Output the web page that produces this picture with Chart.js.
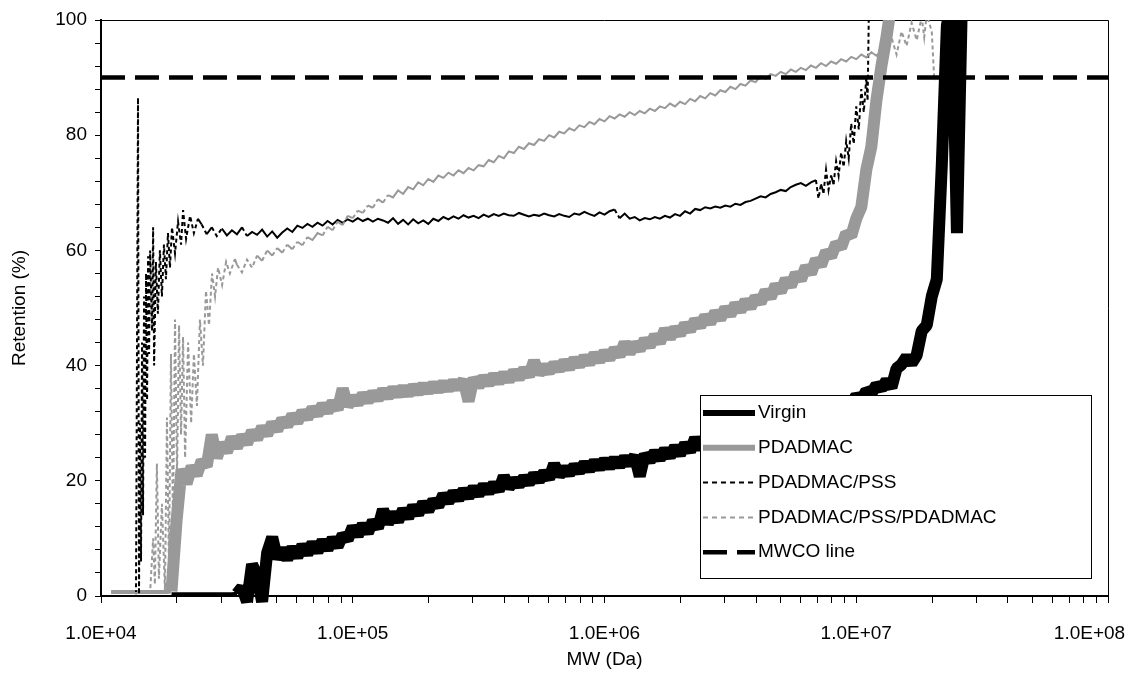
<!DOCTYPE html>
<html>
<head>
<meta charset="utf-8">
<script src="https://cdn.jsdelivr.net/npm/chart.js@4.4.1/dist/chart.umd.min.js"></script>
<style>
  html, body { margin: 0; padding: 0; background: #fff; overflow: hidden; }
  canvas { display: block; }
</style>
</head>
<body>
<canvas id="retentionChart" width="1127" height="680"></canvas>
<script>
// axis ticks
const xDecades = [1e4, 1e5, 1e6, 1e7, 1e8];
const xDecadeLabels = ['1.0E+04', '1.0E+05', '1.0E+06', '1.0E+07', '1.0E+08'];
const xMinorSteps = [2, 3, 4, 5, 6, 7, 8, 9];
const yLabelValues = [0, 20, 40, 60, 80, 100];

const seriesLabels = ['Virgin', 'PDADMAC', 'PDADMAC/PSS', 'PDADMAC/PSS/PDADMAC', 'MWCO line'];

// log10(MW) grid used by the two thick curves
const gridLogMW = [
  4.04,4.06,4.08,4.10,4.12,4.14,4.16,4.18,4.20,4.22,
  4.24,4.26,4.28,4.30,4.32,4.34,4.36,4.38,4.40,4.42,
  4.44,4.46,4.48,4.50,4.52,4.54,4.56,4.58,4.60,4.62,
  4.64,4.66,4.68,4.70,4.72,4.74,4.76,4.78,4.80,4.82,
  4.84,4.86,4.88,4.90,4.92,4.94,4.96,4.98,5.00,5.02,
  5.04,5.06,5.08,5.10,5.12,5.14,5.16,5.18,5.20,5.22,
  5.24,5.26,5.28,5.30,5.32,5.34,5.36,5.38,5.40,5.42,
  5.44,5.46,5.48,5.50,5.52,5.54,5.56,5.58,5.60,5.62,
  5.64,5.66,5.68,5.70,5.72,5.74,5.76,5.78,5.80,5.82,
  5.84,5.86,5.88,5.90,5.92,5.94,5.96,5.98,6.00,6.02,
  6.04,6.06,6.08,6.10,6.12,6.14,6.16,6.18,6.20,6.22,
  6.24,6.26,6.28,6.30,6.32,6.34,6.36,6.38,6.40,6.42,
  6.44,6.46,6.48,6.50,6.52,6.54,6.56,6.58,6.60,6.62,
  6.64,6.66,6.68,6.70,6.72,6.74,6.76,6.78,6.80,6.82,
  6.84,6.86,6.88,6.90,6.92,6.94,6.96,6.98,7.00,7.02,
  7.04,7.06,7.08,7.10,7.12,7.14,7.16,7.18,7.20,7.22,
  7.24,7.26,7.28,7.30,7.32,7.34,7.36,7.38,7.40,7.42,
  7.44,7.46
];

const virginRet = [
  null,null,null,null,null,null,null,null,null,null,
  null,null,0.3,0.3,0.3,0.3,0.3,0.3,0.3,0.3,
  0.3,0.3,0.3,0.3,0.3,0.4,1.5,-1,5.5,3.5,
  -1,7.5,10.2,6.5,8.2,6.4,8.4,6.8,8.8,7.3,
  9.2,7.7,9.6,8.1,10,8.6,10.6,9.8,12,10.5,
  12.4,11,13,11.8,15,12.6,14.4,13,15,13.6,
  15.6,14.2,16.2,14.8,16.6,15.6,17.6,16.3,18,16.8,
  18.4,17.2,18.8,17.6,19.2,18,19.5,18.3,20.8,18.8,
  20.2,19.2,20.6,19.6,21.1,20,21.5,20.4,22.9,20.9,
  22.2,21.2,22.6,21.6,23,21.9,23.3,22.2,23.6,22.4,
  23.8,22.6,24,22.9,24.3,20.8,24.6,23.4,25,23.8,
  25.4,24.2,25.9,24.6,26.4,25.1,27.4,25.6,27,26,
  27.5,26.4,27.9,26.9,28.3,27.3,28.7,27.7,29.1,28.2,
  29.6,28.7,30.1,29.2,30.6,29.7,31.1,30.2,31.6,30.8,
  32.2,31.4,32.8,32,33.4,32.6,34,33.2,34.8,34,
  35.6,35.2,36.6,36,37.4,36.2,39.5,40.2,41.5,40.4,
  41.8,46,47,52,55,75,99,104,63,104,
  108,110
];

const pdadmacRet = [
  0.7,0.7,0.7,0.7,0.7,0.7,0.7,0.7,0.7,0.7,
  0.7,0.7,0.8,13,22,19.5,22.5,21,23.5,22.5,
  28,24,26.5,25,27.5,25.8,27.8,26.5,28.6,27.3,
  29.3,28,30,28.8,30.7,29.6,31.4,30.2,32,30.9,
  32.6,31.5,33.2,32,33.7,32.4,36,33,34.5,33.4,
  35,33.8,35.3,34.2,35.7,34.6,36,34.9,36.2,35,
  36.4,35.3,36.6,35.5,36.8,35.7,37,35.9,37.2,36.1,
  37.5,33.8,37.8,36.4,38,36.8,38.3,37.1,38.6,37.4,
  39,37.8,39.4,38.2,40.8,38.6,39.9,38.9,40.3,39.3,
  40.7,39.6,41.1,40,41.5,40.4,42,40.8,42.4,41.2,
  42.9,41.7,44,42.2,43.8,42.8,44.5,43.4,45.2,44,
  46.3,44.8,46.5,45.4,47.2,46.1,47.9,46.8,48.6,47.4,
  49.3,48.1,50,48.8,50.7,49.5,51.3,50.1,51.9,50.9,
  53,51.8,54,52.8,55,53.8,56,54.9,57.2,56,
  58.4,57.4,59.8,58.9,61.2,60.5,63,62.5,65.5,67.5,
  74,78,86,92,97,103,null,null,null,null,
  null,null,null,null,null,null,null,null,null,null,
  null,null
];

// PDADMAC/PSS
const pssLogMW = [
  4.139,4.147,4.151,4.155,4.159,4.163,4.167,4.171,4.175,4.179,
  4.183,4.187,4.191,4.195,4.203,4.207,4.211,4.218,4.226,4.234,
  4.242,4.250,4.258,4.266,4.274,4.282,4.294,4.306,4.318,4.326,
  4.338,4.354,4.369,4.385,
  4.40,4.42,4.44,4.46,4.48,4.50,4.52,4.54,4.56,4.58,
  4.60,4.62,4.64,4.66,4.68,4.70,4.72,4.74,4.76,4.78,
  4.80,4.82,4.84,4.86,4.88,4.90,4.92,4.94,4.96,4.98,
  5.00,5.02,5.04,5.06,5.08,5.10,5.12,5.14,5.16,5.18,
  5.20,5.22,5.24,5.26,5.28,5.30,5.32,5.34,5.36,5.38,
  5.40,5.42,5.44,5.46,5.48,5.50,5.52,5.54,5.56,5.58,
  5.60,5.62,5.64,5.66,5.68,5.70,5.72,5.74,5.76,5.78,
  5.80,5.82,5.84,5.86,5.88,5.90,5.92,5.94,5.96,5.98,
  6.00,6.02,6.04,6.06,6.08,6.10,6.12,6.14,6.16,6.18,
  6.20,6.22,6.24,6.26,6.28,6.30,6.32,6.34,6.36,6.38,
  6.40,6.42,6.44,6.46,6.48,6.50,6.52,6.54,6.56,6.58,
  6.60,6.62,6.64,6.66,6.68,6.70,6.72,6.74,6.76,6.78,
  6.80,6.82,6.84,
  6.85,6.86,6.87,6.88,6.89,6.90,6.91,6.92,6.93,6.94,
  6.95,6.96,6.97,6.98,6.99,7.00,7.01,7.02,7.03,7.04,
  7.045,7.05
];
const pssRet = [
  0.3,86.5,0.3,30,6,44,14,52,24,56,
  34,59,42,60,46,64,40,58,49,60,
  52,61,55,63,57,64,59.5,65,61,67,
  62,66,63,65.5,
  64.5,62.8,64,62.5,63.8,62.6,63.5,62.8,64,62.5,
  63.2,62.7,63.6,62.4,63.3,62.2,63.1,63.8,63.2,64.3,
  63.9,64.6,64.1,64.8,64.3,65.1,64.5,65.3,64.8,65.4,
  65,65.6,65.1,65.5,65,65.5,65.2,64.8,65.6,64.6,
  65.3,64.5,65.4,64.7,65.2,64.6,65.5,65.1,65.8,65.4,
  65.9,65.5,66.1,65.7,66,65.6,66.2,65.8,66.3,66,
  66.4,66.1,66,66.5,66.2,65.9,66.2,66,66.4,66.1,
  65.9,66.3,66,65.8,66.4,66.2,66.7,66.3,66,66.6,
  66.2,66.8,67.1,65.6,66.4,65.5,65.8,65.2,65.6,65.4,
  65.8,65.5,66,65.7,66.3,66,66.8,66.4,67.2,67,
  67.5,67.3,67.6,67.4,67.8,67.6,68.1,67.9,68.4,68.6,
  69,69.4,69.2,69.8,70.1,70.5,70.3,71,71.4,71.7,
  71.2,71.8,72.2,
  69,71.5,70,74,70.5,73,71.5,75.5,73,77,
  74.5,79,76,82,78.5,85,81,88,84,90,
  86,101
];

// PDADMAC/PSS/PDADMAC
const pssPdLogMW = [
  4.048,4.195,4.207,4.214,4.222,4.230,4.242,4.254,4.262,4.270,
  4.278,4.286,4.294,4.302,4.310,4.318,4.326,4.334,4.346,4.358,
  4.369,4.381,4.393,4.405,4.417,4.429,4.441,4.453,4.465,4.481,
  4.497,4.512,4.532,
  4.54,4.56,4.58,4.60,4.62,4.64,4.66,4.68,4.70,4.72,
  4.74,4.76,4.78,4.80,4.82,4.84,4.86,4.88,4.90,4.92,
  4.94,4.96,4.98,5.00,5.02,5.04,5.06,5.08,5.10,5.12,
  5.14,5.16,5.18,5.20,5.22,5.24,5.26,5.28,5.30,5.32,
  5.34,5.36,5.38,5.40,5.42,5.44,5.46,5.48,5.50,5.52,
  5.54,5.56,5.58,5.60,5.62,5.64,5.66,5.68,5.70,5.72,
  5.74,5.76,5.78,5.80,5.82,5.84,5.86,5.88,5.90,5.92,
  5.94,5.96,5.98,6.00,6.02,6.04,6.06,6.08,6.10,6.12,
  6.14,6.16,6.18,6.20,6.22,6.24,6.26,6.28,6.30,6.32,
  6.34,6.36,6.38,6.40,6.42,6.44,6.46,6.48,6.50,6.52,
  6.54,6.56,6.58,6.60,6.62,6.64,6.66,6.68,6.70,6.72,
  6.74,6.76,6.78,6.80,6.82,6.84,6.86,6.88,6.90,6.92,
  6.94,6.96,6.98,7.00,7.02,7.04,7.06,7.08,7.10,
  7.12,7.14,7.16,7.18,7.20,7.22,7.24,7.26,7.27,7.28,
  7.30,7.31
];
const pssPdRet = [
  0.5,0.5,10,2,23,3,16,1,31,5,
  42,12,48,21,47,28,45,24,44,30,
  42,33,48,40,53,47,56,52,57,54,
  58,56,58.5,
  57.5,56.2,58.4,57,59.1,58.2,60,59.1,60.4,59.6,
  61,60.2,61.5,60.9,62.3,61.8,63,62.6,64.1,63.5,
  65,64.4,66,65.6,66.9,66.5,67.8,67.4,68.9,68.3,
  69.6,69.2,70.4,69.8,71,70.6,71.8,71.3,72.4,71.9,
  73,72.6,73.5,73,73.9,73.4,74.3,73.9,74.8,74.6,
  75.7,75.3,76.4,76,77.2,76.9,78,77.6,78.6,78.3,
  79.3,79,80,79.6,80.6,80.3,81.2,80.8,81.7,81.4,
  82.3,81.9,82.8,82.4,83.3,82.9,83.6,83.2,84,83.5,
  84.2,83.8,84.6,84.2,85,84.7,85.5,85,85.8,85.4,
  86.3,85.9,86.8,86.4,87.3,86.9,87.8,87.5,88.4,88,
  88.9,88.6,89.5,89.2,90.2,89.8,90.6,90.3,91,90.6,
  91.4,91,91.7,91.3,92.1,91.7,92.5,92,92.8,92.4,
  93.2,92.8,93.6,93.2,94,93.5,94.4,93.8,94.6,
  95,97,94,98,95.5,99.5,96.5,100.5,97,101,
  98,89.5
];

const mwcoMW = [1e4, 1e8];
const mwcoRet = [90, 90];

function toPoints(logs, vals) {
  const pts = [];
  logs.forEach((lg, i) => {
    if (vals[i] !== null && vals[i] !== undefined) pts.push({ x: Math.pow(10, lg), y: vals[i] });
  });
  return pts;
}

// long strokes of the dotted curves show their dashes, short noisy steps look solid
const dashLongSteps = c => Math.hypot(c.p1.x - c.p0.x, c.p1.y - c.p0.y) > 9 ? [4, 3] : undefined;
// the zero baseline before each curve rises is drawn thin
const thinBaseline = c => {
  const ys = c.chart.scales.y;
  return ys.getValueForPixel(c.p0.y) < 1 && ys.getValueForPixel(c.p1.y) < 1 ? 4 : undefined;
};

const xTickValues = [];
xDecades.forEach((d, i) => {
  xTickValues.push(d);
  if (i < xDecades.length - 1) xMinorSteps.forEach(k => xTickValues.push(d * k));
});

Chart.defaults.font.family = '"Liberation Sans", Arial, sans-serif';
Chart.defaults.font.size = 19;
Chart.defaults.color = '#000';

const plotFrame = {
  id: 'plotFrame',
  beforeDatasetsDraw(chart) {
    const { ctx, chartArea: a } = chart;
    ctx.save();
    ctx.strokeStyle = '#000';
    ctx.lineWidth = 1;
    ctx.beginPath();
    ctx.moveTo(a.left, Math.round(a.top) + 0.5);
    ctx.lineTo(Math.round(a.right) + 0.5, Math.round(a.top) + 0.5);
    ctx.lineTo(Math.round(a.right) + 0.5, a.bottom);
    ctx.stroke();
    ctx.restore();
  }
};

const boxLegend = {
  id: 'boxLegend',
  afterDatasetsDraw(chart, args, opts) {
    const { ctx, chartArea: a } = chart;
    const w = a.right - a.left, h = a.bottom - a.top;
    const bx = Math.round(a.left + opts.left * w), by = Math.round(a.top + opts.top * h);
    const bw = Math.round((opts.right - opts.left) * w), bh = Math.round((opts.bottom - opts.top) * h);
    ctx.save();
    ctx.fillStyle = '#fff';
    ctx.fillRect(bx, by, bw, bh);
    ctx.strokeStyle = '#000';
    ctx.lineWidth = 1;
    ctx.strokeRect(bx + 0.5, by + 0.5, bw, bh);
    ctx.font = opts.font;
    ctx.textBaseline = 'middle';
    chart.data.datasets.forEach((ds, i) => {
      const y = by + opts.firstRow + i * opts.rowGap;
      ctx.beginPath();
      ctx.strokeStyle = ds.borderColor;
      ctx.lineWidth = ds.legendWidth || ds.borderWidth;
      ctx.setLineDash(ds.legendDash || []);
      ctx.moveTo(bx + opts.sampleStart, y);
      ctx.lineTo(bx + opts.sampleEnd, y);
      ctx.stroke();
      ctx.setLineDash([]);
      ctx.fillStyle = '#000';
      ctx.fillText(ds.label, bx + opts.textStart, y);
    });
    ctx.restore();
  }
};

const clipTop = { left: 0, top: 0, right: 0, bottom: 12 };

new Chart(document.getElementById('retentionChart'), {
  type: 'line',
  data: {
    datasets: [
      {
        label: seriesLabels[0],
        data: toPoints(gridLogMW, virginRet),
        borderColor: '#000000',
        borderWidth: 12,
        legendWidth: 6,
        borderJoinStyle: 'bevel',
        segment: { borderWidth: thinBaseline },
        clip: clipTop,
        order: 5
      },
      {
        label: seriesLabels[1],
        data: toPoints(gridLogMW, pdadmacRet),
        borderColor: '#999999',
        borderWidth: 12,
        legendWidth: 6,
        borderJoinStyle: 'bevel',
        segment: { borderWidth: thinBaseline },
        clip: clipTop,
        order: 4
      },
      {
        label: seriesLabels[2],
        data: toPoints(pssLogMW, pssRet),
        borderColor: '#000000',
        borderWidth: 2,
        borderDash: [],
        legendDash: [5, 4],
        segment: { borderDash: dashLongSteps },
        clip: clipTop,
        order: 3
      },
      {
        label: seriesLabels[3],
        data: toPoints(pssPdLogMW, pssPdRet),
        borderColor: '#999999',
        borderWidth: 2,
        borderDash: [],
        legendDash: [5, 4],
        segment: { borderDash: dashLongSteps },
        clip: clipTop,
        order: 2
      },
      {
        label: seriesLabels[4],
        data: mwcoMW.map((m, i) => ({ x: m, y: mwcoRet[i] })),
        borderColor: '#000000',
        borderWidth: 4.5,
        borderDash: [24, 10],
        legendDash: [24, 10],
        borderCapStyle: 'butt',
        clip: clipTop,
        order: 1
      }
    ]
  },
  options: {
    responsive: false,
    animation: false,
    devicePixelRatio: 1,
    elements: { point: { radius: 0 }, line: { tension: 0 } },
    layout: { padding: { top: 20, right: 19, left: 0, bottom: 0 } },
    plugins: {
      legend: { display: false },
      tooltip: { enabled: false },
      boxLegend: {
        left: 0.595, right: 0.983, top: 0.651, bottom: 0.969,
        firstRow: 18, rowGap: 34.8,
        sampleStart: 3, sampleEnd: 55, textStart: 58,
        font: '19px "Liberation Sans", Arial, sans-serif'
      }
    },
    scales: {
      x: {
        type: 'logarithmic',
        min: 1e4,
        max: 1e8,
        afterBuildTicks: s => { s.ticks = xTickValues.map(v => ({ value: v })); },
        afterFit: s => { s.height = 84; s.paddingLeft = 0; s.paddingRight = 0; },
        ticks: {
          autoSkip: false,
          maxRotation: 0,
          minRotation: 0,
          padding: 19,
          callback: v => {
            const k = xDecades.indexOf(v);
            if (k < 0) return '';
            // the last label is pulled in so it stays inside the page
            return k === xDecades.length - 1 ? xDecadeLabels[k] + '\u00a0'.repeat(7) : xDecadeLabels[k];
          }
        },
        grid: { drawOnChartArea: false, drawTicks: true, tickLength: 7, tickColor: '#000', tickWidth: 1 },
        border: { display: true, color: '#000', width: 2 },
        title: { display: true, text: 'MW (Da)', padding: { top: 0, bottom: 9 } }
      },
      y: {
        min: 0,
        max: 100,
        afterFit: s => { s.width = 101; },
        ticks: {
          stepSize: 4,
          autoSkip: false,
          padding: 8,
          callback: v => (yLabelValues.includes(v) ? String(v) : '')
        },
        grid: { drawOnChartArea: false, drawTicks: true, tickLength: 6, tickColor: '#000', tickWidth: 1 },
        border: { display: true, color: '#000', width: 2 },
        title: { display: true, text: 'Retention (%)', padding: { top: 8, bottom: 0 } }
      }
    }
  },
  plugins: [plotFrame, boxLegend]
});
</script>
</body>
</html>
